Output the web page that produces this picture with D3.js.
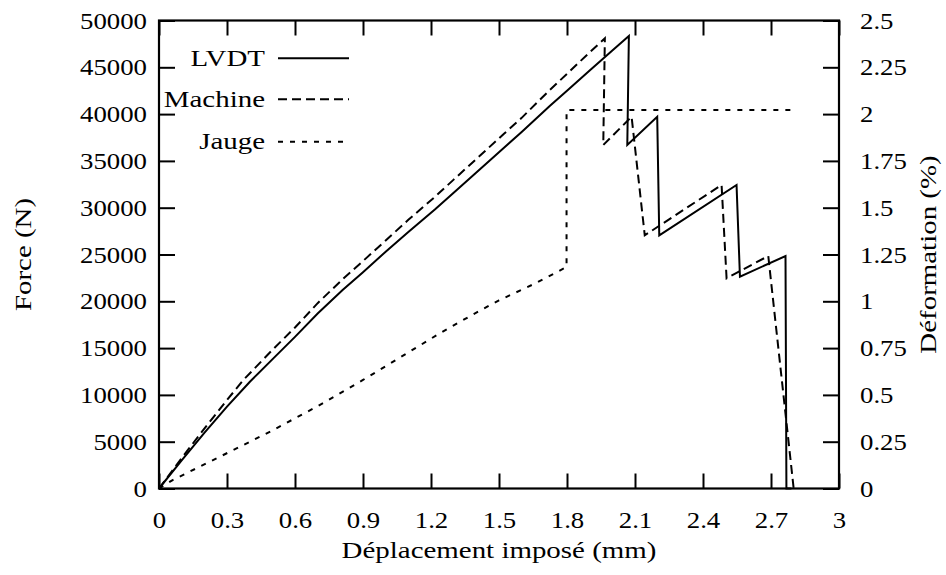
<!DOCTYPE html>
<html><head><meta charset="utf-8">
<script src="https://cdn.jsdelivr.net/npm/d3@7"></script>
<style>
body{margin:0;background:#fff}
svg text{font-family:"Liberation Serif",serif !important;fill:#000}
</style>
</head><body>
<svg id="chart" width="946" height="575"></svg>
<script>
// ---- data ----
const lvdtX = [0,0.1,0.2,0.3,0.401,0.5,0.6,0.7,0.81,0.9,1.0,1.1,1.217,1.3,1.4,1.522,1.6,1.725,1.8,1.9,1.96,2.0,2.073,2.066,2.198,2.207,2.548,2.563,2.764,2.768,2.79];
const lvdtF = [0,3000,5950,8750,11400,13800,16200,18700,21200,23100,25300,27400,29800,31600,33750,36400,38100,40900,42500,44650,45950,46800,48340,36700,39720,27050,32430,22630,24840,0,0];
const machineX = [0,0.1,0.2,0.3,0.372,0.5,0.6,0.7,0.812,0.9,1.0,1.1,1.217,1.3,1.4,1.522,1.6,1.725,1.8,1.9,1.967,1.96,2.085,2.143,2.482,2.504,2.688,2.8];
const machineF = [0,3250,6400,9450,11590,14800,17200,19800,22400,24300,26500,28700,31150,33000,35200,37900,39600,42600,44300,46600,48100,36700,39720,27050,32430,22460,24840,0];
const jaugeX = [0,0.06,0.357,0.5,0.7,0.9,1.05,1.24,1.4,1.5,1.65,1.798,1.798,2.8];
const jaugeD = [0,0.045,0.223,0.31,0.44,0.58,0.69,0.83,0.94,1.005,1.09,1.183,2.022,2.022];
const xTicks = [0,0.3,0.6,0.9,1.2,1.5,1.8,2.1,2.4,2.7,3];
const yTicks = [0,5000,10000,15000,20000,25000,30000,35000,40000,45000,50000];
const y2Ticks = [0,0.25,0.5,0.75,1,1.25,1.5,1.75,2,2.25,2.5];
const legendLabels = ["LVDT","Machine","Jauge"];
const xTitle = "Déplacement imposé (mm)", yTitle = "Force (N)", y2Title = "Déformation (%)";

// ---- layout ----
const FONT = "'Liberation Serif', serif";
const FS = 22.5;
const L = 159, R = 839, T = 20.5, B = 488.5;
const svg = d3.select("#chart");
const x = d3.scaleLinear().domain([0,3]).range([L,R]);
const y = d3.scaleLinear().domain([0,50000]).range([B,T]);
const y2 = d3.scaleLinear().domain([0,2.5]).range([B,T]);

function measure(str){
  const t = svg.append("text").attr("font-size",FS).style("font-family",FONT).text(str);
  const w = t.node().getComputedTextLength(); t.remove(); return w;
}
// horizontal stretch so that glyph widths match the reference (digits 13.4px, title 315px)
const SXnum = 134 / measure("0123456789");
const SXword = 315 / measure(xTitle);

function stretch(sel, sx){
  sel.selectAll("text").each(function(){
    const t = d3.select(this);
    const xv = +t.attr("x") || 0;
    t.attr("x", xv/sx).attr("transform", `scale(${sx},1)`);
  });
}
const fmt = d => String(d);

const gx = svg.append("g").attr("transform",`translate(0,${B})`)
  .call(d3.axisBottom(x).tickValues(xTicks).tickFormat(fmt).tickSizeInner(-15).tickSizeOuter(0));
const gxt = svg.append("g").attr("transform",`translate(0,${T})`)
  .call(d3.axisTop(x).tickValues(xTicks).tickFormat("").tickSizeInner(-15).tickSizeOuter(0));
const gy = svg.append("g").attr("transform",`translate(${L},0)`)
  .call(d3.axisLeft(y).tickValues(yTicks).tickFormat(fmt).tickSizeInner(-16).tickSizeOuter(0).tickPadding(12));
const gy2 = svg.append("g").attr("transform",`translate(${R},0)`)
  .call(d3.axisRight(y2).tickValues(y2Ticks).tickFormat(fmt).tickSizeInner(-16).tickSizeOuter(0).tickPadding(21));
[gx,gxt,gy,gy2].forEach(g=>{
  g.attr("font-family",FONT).attr("font-size",FS);
  g.select(".domain").remove();
  g.selectAll(".tick line").attr("stroke","#000").attr("stroke-width",2);
  g.selectAll("text").attr("font-size",FS).style("font-family",FONT);
  stretch(g, SXnum);
});
gx.selectAll("text").attr("dy",null).attr("y",39.5);
gy.selectAll("text").attr("dy","0.34em");
gy2.selectAll("text").attr("dy","0.34em");

// frame
svg.append("rect").attr("x",L).attr("y",T).attr("width",R-L).attr("height",B-T)
  .attr("fill","none").attr("stroke","#000").attr("stroke-width",2.2);

// lines
const lineF = d3.line().x(d=>x(d[0])).y(d=>y(d[1]));
const lineD = d3.line().x(d=>x(d[0])).y(d=>y2(d[1]));
const dashes = [null,"9,5","5,7"];
svg.append("path").datum(lvdtX.map((v,i)=>[v,lvdtF[i]])).attr("d",lineF)
  .attr("fill","none").attr("stroke","#000").attr("stroke-width",2);
svg.append("path").datum(machineX.map((v,i)=>[v,machineF[i]])).attr("d",lineF)
  .attr("fill","none").attr("stroke","#000").attr("stroke-width",2).attr("stroke-dasharray",dashes[1]);
svg.append("path").datum(jaugeX.map((v,i)=>[v,jaugeD[i]])).attr("d",lineD)
  .attr("fill","none").attr("stroke","#000").attr("stroke-width",2).attr("stroke-dasharray",dashes[2]);

// legend
const legY = [58.3, 99.3, 141.7];
legendLabels.forEach((lab,i)=>{
  const g = svg.append("g");
  g.append("text").attr("transform",`translate(265,${legY[i]+7.5}) scale(${SXword},1)`)
    .attr("text-anchor","end").attr("font-size",FS).style("font-family",FONT).text(lab);
  g.append("line").attr("x1",278).attr("x2",349).attr("y1",legY[i]).attr("y2",legY[i])
    .attr("stroke","#000").attr("stroke-width",2).attr("stroke-dasharray",dashes[i]);
});

// axis titles
svg.append("text").attr("transform",`translate(${(L+R)/2},558) scale(${SXword},1)`)
  .attr("text-anchor","middle").attr("font-size",FS).style("font-family",FONT).text(xTitle);
svg.append("text").attr("transform",`translate(31,${(T+B)/2}) rotate(-90) scale(${SXword},1)`)
  .attr("text-anchor","middle").attr("font-size",FS).style("font-family",FONT).text(yTitle);
svg.append("text").attr("transform",`translate(936,${(T+B)/2}) rotate(-90) scale(${SXword},1)`)
  .attr("text-anchor","middle").attr("font-size",FS).style("font-family",FONT).text(y2Title);
</script>
</body></html>
